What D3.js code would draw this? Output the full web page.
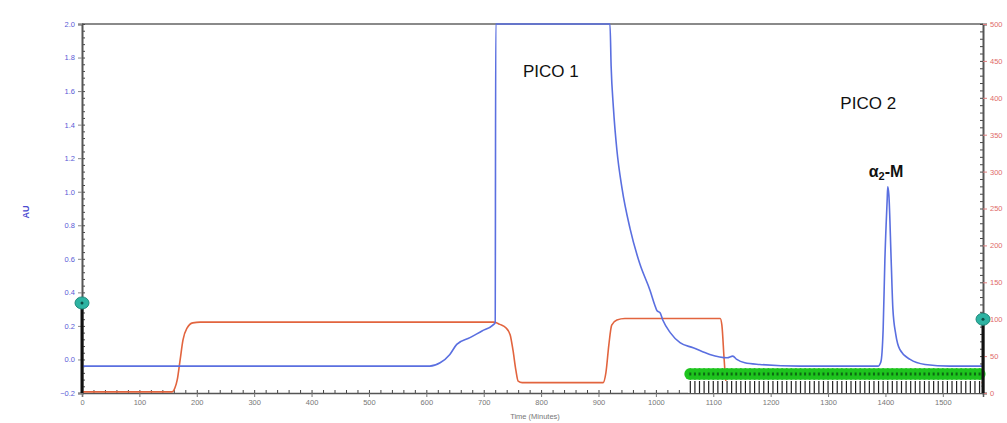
<!DOCTYPE html>
<html>
<head>
<meta charset="utf-8">
<script src="https://cdn.jsdelivr.net/npm/d3@7"></script>
<style>
    body { margin: 0; background: #fff; }
    svg { display: block; font-family: 'Liberation Sans', Arial, sans-serif; }
</style>
</head>
<body>
<svg id="chart" width="1007" height="423"></svg>
<script>
// Поглощение (AU), синяя линия
const auTime = [0, 606, 624, 641, 653, 676, 697, 716, 720, 721, 920, 922, 926, 932, 941, 955, 972, 990, 998, 1002, 1007, 1012, 1025, 1042, 1065, 1094, 1124, 1134, 1141, 1155, 1181, 1251, 1387, 1392, 1396, 1399, 1403, 1404, 1406, 1410, 1413, 1418, 1425, 1443, 1469, 1512, 1570];
const auValue = [-0.04, -0.04, -0.02, 0.03, 0.09, 0.13, 0.17, 0.205, 0.22, 2.0, 2.0, 1.75, 1.50, 1.25, 1.02, 0.78, 0.57, 0.41, 0.325, 0.29, 0.28, 0.235, 0.16, 0.10, 0.07, 0.03, 0.01, 0.02, 0.0, -0.02, -0.03, -0.04, -0.04, -0.015, 0.18, 0.59, 0.95, 1.03, 0.98, 0.59, 0.30, 0.15, 0.06, 0.0, -0.03, -0.04, -0.04];

// Вторая ось (красная линия)
const condTime = [0, 157, 162, 166, 171, 176, 183, 193, 206, 718, 728, 739, 746, 751, 756, 760, 767, 908, 913, 918, 923, 932, 946, 1112, 1115, 1119, 1122, 1129, 1570];
const condValue = [1.5, 1.5, 7, 18, 45, 72, 88, 95, 96, 96, 93, 88, 79, 58, 31, 16, 14, 14, 28, 65, 92, 99, 101, 101, 92, 45, 16, 14, 14];

// Фракции коллектора (мин)
const fractionTimes = [1060, 1068, 1076, 1084, 1092, 1100, 1108, 1116, 1124, 1132, 1140, 1148, 1156, 1164, 1172, 1180, 1188, 1196, 1204, 1212, 1220, 1228, 1236, 1244, 1252, 1260, 1268, 1276, 1284, 1292, 1300, 1308, 1316, 1324, 1332, 1340, 1348, 1356, 1364, 1372, 1380, 1388, 1396, 1404, 1412, 1420, 1428, 1436, 1444, 1452, 1460, 1468, 1476, 1484, 1492, 1500, 1508, 1516, 1524, 1532, 1540, 1548, 1556, 1564];

// Подписи осей
const xTicks = [0, 100, 200, 300, 400, 500, 600, 700, 800, 900, 1000, 1100, 1200, 1300, 1400, 1500];
const leftTicks = [-0.2, 0.0, 0.2, 0.4, 0.6, 0.8, 1.0, 1.2, 1.4, 1.6, 1.8, 2.0];
const rightTicks = [0, 50, 100, 150, 200, 250, 300, 350, 400, 450, 500];

// Курсоры на осях
const leftCursor = { t: 0, v: 0.337 };
const rightCursor = { t: 1570, v: 100 };

const svg = d3.select('#chart');
const plotLeft = 82, plotRight = 983, plotTop = 24, plotBottom = 393;

const x = d3.scaleLinear().domain([0, 1570]).range([plotLeft, plotRight]);
const yL = d3.scaleLinear().domain([-0.2, 2.0]).range([plotBottom, plotTop]);
const yR = d3.scaleLinear().domain([0, 500]).range([plotBottom, plotTop]);

// Верхняя рамка
svg.append('line')
    .attr('x1', plotLeft).attr('x2', plotRight)
    .attr('y1', plotTop).attr('y2', plotTop)
    .attr('stroke', '#8a8a8a').attr('stroke-width', 2);

// Мелкие деления
svg.append('g')
    .attr('transform', `translate(${plotLeft},0)`)
    .call(d3.axisLeft(yL).tickValues(d3.range(-0.2, 2.001, 0.04)).tickSize(-3).tickFormat(''))
    .call(g => g.select('.domain').remove())
    .selectAll('line').attr('stroke', '#444');
svg.append('g')
    .attr('transform', `translate(${plotRight},0)`)
    .call(d3.axisRight(yR).tickValues(d3.range(0, 501, 10)).tickSize(-3).tickFormat(''))
    .call(g => g.select('.domain').remove())
    .selectAll('line').attr('stroke', '#444');
svg.append('g')
    .attr('transform', `translate(0,${plotBottom})`)
    .call(d3.axisBottom(x).tickValues(d3.range(0, 1571, 20)).tickSize(-3).tickFormat(''))
    .call(g => g.select('.domain').remove())
    .selectAll('line').attr('stroke', '#444');

// Левая ось
const axL = svg.append('g')
    .attr('transform', `translate(${plotLeft},0)`)
    .call(d3.axisLeft(yL).tickValues(leftTicks).tickSize(4).tickFormat(d3.format('.1f')));
axL.select('.domain').attr('stroke', '#555').attr('stroke-width', 2);
axL.selectAll('line').attr('stroke', '#888');
axL.selectAll('text').attr('fill', '#5a5ad6').style('font-size', '7.5px');

// Правая ось
const axR = svg.append('g')
    .attr('transform', `translate(${plotRight},0)`)
    .call(d3.axisRight(yR).tickValues(rightTicks).tickSize(4));
axR.select('.domain').attr('stroke', '#555').attr('stroke-width', 2);
axR.selectAll('line').attr('stroke', '#e08080');
axR.selectAll('text').attr('fill', '#e06a6a').style('font-size', '7.5px');

// Нижняя ось
const axB = svg.append('g')
    .attr('transform', `translate(0,${plotBottom})`)
    .call(d3.axisBottom(x).tickValues(xTicks).tickSize(4).tickFormat(d3.format('d')));
axB.select('.domain').attr('stroke', '#555').attr('stroke-width', 1.5);
axB.selectAll('line').attr('stroke', '#777');
axB.selectAll('text').attr('fill', '#777').style('font-size', '7.5px');

svg.append('text')
    .attr('x', 535).attr('y', 419)
    .attr('text-anchor', 'middle')
    .attr('fill', '#777').style('font-size', '7.5px')
    .text('Time (Minutes)');

svg.append('text')
    .attr('transform', 'translate(29,212) rotate(-90)')
    .attr('text-anchor', 'middle')
    .attr('fill', '#4a4ad0').style('font-size', '9px').style('font-weight', 'bold')
    .text('AU');

const line = d3.curveMonotoneX;

// Красная линия
svg.append('path')
    .datum(condTime.map((t, i) => [t, condValue[i]]))
    .attr('fill', 'none')
    .attr('stroke', '#e2643e')
    .attr('stroke-width', 1.6)
    .attr('d', d3.line().curve(line).x(d => x(d[0])).y(d => yR(d[1])));

// Синяя линия
svg.append('path')
    .datum(auTime.map((t, i) => [t, auValue[i]]))
    .attr('fill', 'none')
    .attr('stroke', '#5a6fe0')
    .attr('stroke-width', 1.6)
    .attr('d', d3.line().curve(line).x(d => x(d[0])).y(d => yL(d[1])));

// Деления фракций
const frac = svg.append('g');
frac.append('rect')
    .attr('x', x(fractionTimes[0]) - 2).attr('y', plotBottom - 12)
    .attr('width', x(fractionTimes[fractionTimes.length - 1]) - x(fractionTimes[0]) + 4)
    .attr('height', 12)
    .attr('fill', '#fff');
frac.selectAll('line')
    .data(fractionTimes)
    .enter()
    .append('line')
    .attr('x1', d => x(d)).attr('x2', d => x(d))
    .attr('y1', plotBottom - 12).attr('y2', plotBottom)
    .attr('stroke', '#222').attr('stroke-width', 1.2);

// Зелёные маркеры фракций
const band = svg.append('g');
band.selectAll('circle')
    .data(fractionTimes)
    .enter()
    .append('circle')
    .attr('cx', d => x(d))
    .attr('cy', plotBottom - 19)
    .attr('r', 6)
    .attr('fill', '#1ec41e');
band.selectAll('rect')
    .data(fractionTimes)
    .enter()
    .append('rect')
    .attr('x', d => x(d) - 1)
    .attr('y', plotBottom - 20.5)
    .attr('width', 2).attr('height', 3)
    .attr('fill', '#0c6a12');

// Курсоры
svg.append('line')
    .attr('x1', x(leftCursor.t)).attr('x2', x(leftCursor.t))
    .attr('y1', yL(leftCursor.v)).attr('y2', plotBottom)
    .attr('stroke', '#111').attr('stroke-width', 3);
svg.append('line')
    .attr('x1', x(rightCursor.t)).attr('x2', x(rightCursor.t))
    .attr('y1', yR(rightCursor.v)).attr('y2', plotBottom)
    .attr('stroke', '#111').attr('stroke-width', 3);

[[x(leftCursor.t), yL(leftCursor.v)], [x(rightCursor.t), yR(rightCursor.v)]].forEach(p => {
    svg.append('ellipse')
        .attr('cx', p[0]).attr('cy', p[1])
        .attr('rx', 7).attr('ry', 6)
        .attr('fill', '#2db3a2').attr('stroke', '#1f8a7c');
    svg.append('circle')
        .attr('cx', p[0]).attr('cy', p[1])
        .attr('r', 1.5).attr('fill', '#0d4d46');
});

// Подписи пиков
svg.append('text')
    .attr('x', x(817)).attr('y', yL(1.684))
    .attr('text-anchor', 'middle')
    .style('font-size', '17px').attr('fill', '#111')
    .text('PICO 1');
svg.append('text')
    .attr('x', x(1370)).attr('y', yL(1.493))
    .attr('text-anchor', 'middle')
    .style('font-size', '17px').attr('fill', '#111')
    .text('PICO 2');

const alpha = svg.append('text')
    .attr('x', x(1401)).attr('y', yL(1.088))
    .attr('text-anchor', 'middle')
    .style('font-size', '16px').style('font-weight', 'bold').attr('fill', '#111');
alpha.append('tspan').text('α');
alpha.append('tspan').attr('dy', 3).style('font-size', '11px').text('2');
alpha.append('tspan').attr('dy', -3).text('-M');
</script>
</body>
</html>
